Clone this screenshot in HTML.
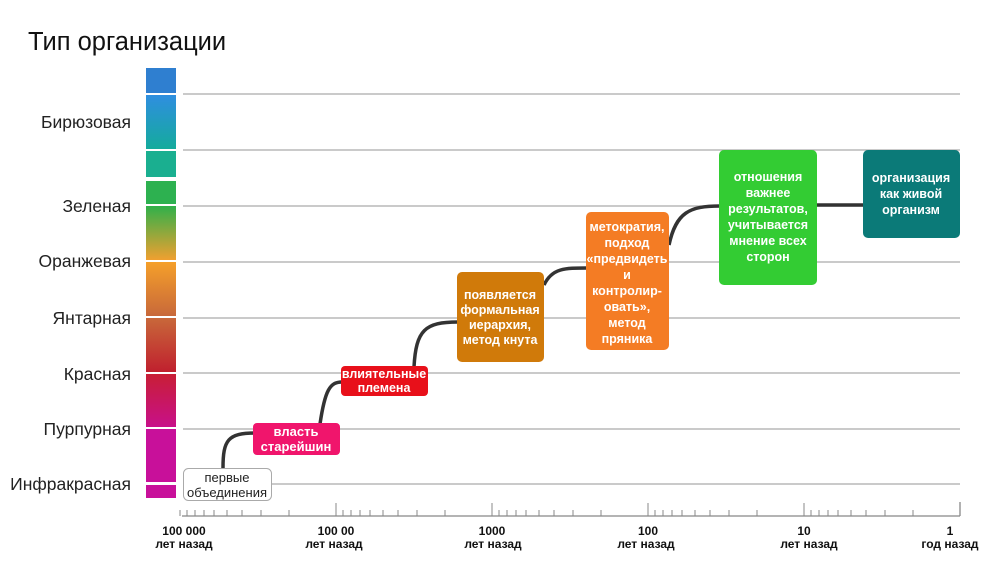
<!DOCTYPE html>
<html><head><meta charset="utf-8"><style>
body{margin:0;background:#fff;}
svg{display:block;font-family:"Liberation Sans","DejaVu Sans",sans-serif;}
</style></head><body>
<svg width="994" height="567" viewBox="0 0 994 567" xmlns="http://www.w3.org/2000/svg">
<defs>
<linearGradient id="g1" x1="0" y1="0" x2="0" y2="1"><stop offset="0" stop-color="#2f8ee0"/><stop offset="1" stop-color="#14ab9c"/></linearGradient>
<linearGradient id="g2" x1="0" y1="0" x2="0" y2="1"><stop offset="0" stop-color="#30b04a"/><stop offset="1" stop-color="#f0a030"/></linearGradient>
<linearGradient id="g3" x1="0" y1="0" x2="0" y2="1"><stop offset="0" stop-color="#f5a02a"/><stop offset="1" stop-color="#c8683a"/></linearGradient>
<linearGradient id="g4" x1="0" y1="0" x2="0" y2="1"><stop offset="0" stop-color="#c8683a"/><stop offset="1" stop-color="#c0202e"/></linearGradient>
<linearGradient id="g5" x1="0" y1="0" x2="0" y2="1"><stop offset="0" stop-color="#c81e35"/><stop offset="1" stop-color="#c8108a"/></linearGradient>
</defs>
<text x="28" y="50" font-size="25.5" fill="#111">Тип организации</text>
<rect x="146" y="68" width="30" height="25" fill="#2f7fd0"/>
<rect x="146" y="95" width="30" height="54" fill="url(#g1)"/>
<rect x="146" y="151" width="30" height="26" fill="#1aaf90"/>
<rect x="146" y="181" width="30" height="23" fill="#2db150"/>
<rect x="146" y="206" width="30" height="54" fill="url(#g2)"/>
<rect x="146" y="262" width="30" height="54" fill="url(#g3)"/>
<rect x="146" y="318" width="30" height="54" fill="url(#g4)"/>
<rect x="146" y="374" width="30" height="53" fill="url(#g5)"/>
<rect x="146" y="429" width="30" height="53" fill="#c8109a"/>
<rect x="146" y="485" width="30" height="13" fill="#c8109a"/>
<g stroke="#aaa" stroke-width="1.3">
<line x1="183" y1="94" x2="960" y2="94"/><line x1="183" y1="150" x2="960" y2="150"/>
<line x1="183" y1="206" x2="960" y2="206"/><line x1="183" y1="262" x2="960" y2="262"/>
<line x1="183" y1="318" x2="960" y2="318"/><line x1="183" y1="373" x2="960" y2="373"/>
<line x1="183" y1="429" x2="960" y2="429"/><line x1="183" y1="484" x2="960" y2="484"/>
</g>
<g font-size="17.5" fill="#222" text-anchor="end">
<text x="131" y="128">Бирюзовая</text><text x="131" y="212">Зеленая</text>
<text x="131" y="267">Оранжевая</text><text x="131" y="324">Янтарная</text>
<text x="131" y="380">Красная</text><text x="131" y="435">Пурпурная</text>
<text x="131" y="490">Инфракрасная</text>
</g>
<g stroke="#333" stroke-width="3.5" fill="none">
<path d="M223 468 C223 440 228 433 255 433"/>
<path d="M320 424 C325 390 330 382 342 382"/>
<path d="M414 367 C416 330 425 322 458 322"/>
<path d="M544 285 C552 268 565 268 587 268"/>
<path d="M669 245 C676 212 690 206 720 206"/>
<path d="M817 205 L864 205"/>
</g>
<rect x="183.5" y="468.5" width="88" height="32" rx="5" fill="#fff" stroke="#aaa"/>
<text font-size="13" fill="#222" text-anchor="middle"><tspan x="227" y="482">первые</tspan><tspan x="227" y="497">объединения</tspan></text>
<rect x="253" y="423" width="87" height="32" rx="4" fill="#f0156c"/>
<g font-size="13" fill="#fff" text-anchor="middle" font-weight="bold">
<text><tspan x="296" y="436">власть</tspan><tspan x="296" y="451">старейшин</tspan></text>
</g>
<rect x="341" y="366" width="87" height="30" rx="4" fill="#e8101a"/>
<rect x="457" y="272" width="87" height="90" rx="5" fill="#d07a0a"/>
<rect x="586" y="212" width="83" height="138" rx="5" fill="#f47c24"/>
<rect x="719" y="150" width="98" height="135" rx="5" fill="#33cc33"/>
<rect x="863" y="150" width="97" height="88" rx="5" fill="#0b7a78"/>
<g font-size="12.5" fill="#fff" text-anchor="middle" font-weight="bold">
<text><tspan x="384" y="378">влиятельные</tspan><tspan x="384" y="392">племена</tspan></text>
<text><tspan x="500" y="299">появляется</tspan><tspan x="500" y="314">формальная</tspan><tspan x="500" y="329">иерархия,</tspan><tspan x="500" y="344">метод кнута</tspan></text>
<text><tspan x="627" y="231">метократия,</tspan><tspan x="627" y="247">подход</tspan><tspan x="627" y="263">«предвидеть</tspan><tspan x="627" y="279">и</tspan><tspan x="627" y="295">контролир-</tspan><tspan x="627" y="311">овать»,</tspan><tspan x="627" y="327">метод</tspan><tspan x="627" y="343">пряника</tspan></text>
<text><tspan x="768" y="181">отношения</tspan><tspan x="768" y="197">важнее</tspan><tspan x="768" y="213">результатов,</tspan><tspan x="768" y="229">учитывается</tspan><tspan x="768" y="245">мнение всех</tspan><tspan x="768" y="261">сторон</tspan></text>
<text><tspan x="911" y="182">организация</tspan><tspan x="911" y="198">как живой</tspan><tspan x="911" y="214">организм</tspan></text>
</g>
<line x1="182" y1="516" x2="960" y2="516" stroke="#888" stroke-width="1.3"/>
<line x1="960" y1="502" x2="960" y2="516" stroke="#888" stroke-width="1.3"/>
<g stroke="#888" stroke-width="1">
<path d="M180 510V516M336 503V516M492 503V516M648 503V516M804 503V516"/>
<path d="M187 510V516M195 510V516M204 510V516M214 510V516M227 510V516M242 510V516M261 510V516M289 510V516"/>
<path d="M343 510V516M351 510V516M360 510V516M370 510V516M383 510V516M398 510V516M417 510V516M445 510V516"/>
<path d="M499 510V516M507 510V516M516 510V516M526 510V516M539 510V516M554 510V516M573 510V516M601 510V516"/>
<path d="M655 510V516M663 510V516M672 510V516M682 510V516M695 510V516M710 510V516M729 510V516M757 510V516"/>
<path d="M811 510V516M819 510V516M828 510V516M838 510V516M851 510V516M866 510V516M885 510V516M913 510V516"/>
</g>
<g font-size="12" font-weight="bold" fill="#111" text-anchor="middle">
<text><tspan x="184" y="535">100 000</tspan><tspan x="184" y="548">лет назад</tspan></text>
<text><tspan x="336" y="535">100 00</tspan><tspan x="334" y="548">лет назад</tspan></text>
<text><tspan x="492" y="535">1000</tspan><tspan x="493" y="548">лет назад</tspan></text>
<text><tspan x="648" y="535">100</tspan><tspan x="646" y="548">лет назад</tspan></text>
<text><tspan x="804" y="535">10</tspan><tspan x="809" y="548">лет назад</tspan></text>
<text><tspan x="950" y="535">1</tspan><tspan x="950" y="548">год назад</tspan></text>
</g>
</svg>
</body></html>
